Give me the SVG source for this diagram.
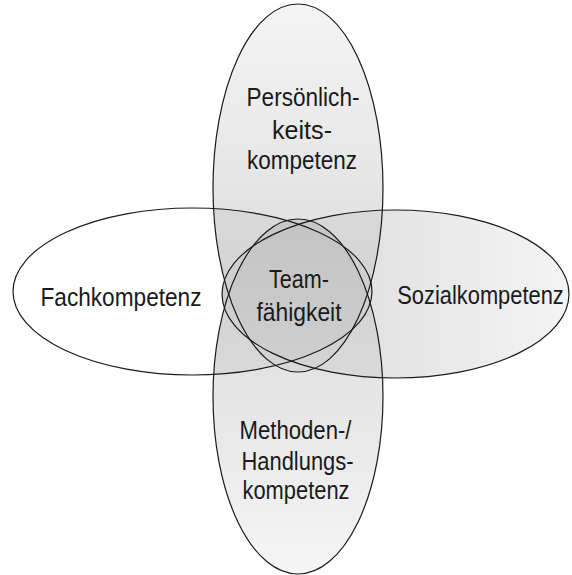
<svg xmlns="http://www.w3.org/2000/svg" xmlns:xlink="http://www.w3.org/1999/xlink" width="572" height="575" viewBox="0 0 572 575">
  <style>
    .outline { fill: none; stroke: #1a1a1a; stroke-width: 1.2; }
    .label { font-family: "Liberation Sans", Arial, sans-serif; font-size: 25px; fill: #1a1a1a; text-anchor: middle; }
    .shade { fill: #000; fill-opacity: 0.018; }
  </style>
  <defs>
    <ellipse id="eL" cx="192.5" cy="291.5" rx="179.5" ry="83.5"/>
    <ellipse id="eR" cx="395.5" cy="294" rx="173.5" ry="84"/>
    <ellipse id="eT" cx="298" cy="188" rx="85" ry="184"/>
    <ellipse id="eB" cx="298" cy="396.5" rx="85" ry="177.5"/>
    <linearGradient id="gT" gradientUnits="userSpaceOnUse" x1="0" y1="4" x2="0" y2="372">
      <stop offset="0" stop-color="#f4f4f4"/>
      <stop offset="1" stop-color="#d6d6d6"/>
    </linearGradient>
    <linearGradient id="gB" gradientUnits="userSpaceOnUse" x1="0" y1="219" x2="0" y2="574">
      <stop offset="0" stop-color="#d6d6d6"/>
      <stop offset="1" stop-color="#f5f5f5"/>
    </linearGradient>
    <linearGradient id="gR" gradientUnits="userSpaceOnUse" x1="222" y1="0" x2="569" y2="0">
      <stop offset="0" stop-color="#d6d6d6"/>
      <stop offset="1" stop-color="#f4f4f4"/>
    </linearGradient>
    <clipPath id="cNotL"><use xlink:href="#eR"/><use xlink:href="#eT"/><use xlink:href="#eB"/></clipPath>
    <clipPath id="cNotR"><use xlink:href="#eL"/><use xlink:href="#eT"/><use xlink:href="#eB"/></clipPath>
    <clipPath id="cNotT"><use xlink:href="#eL"/><use xlink:href="#eR"/><use xlink:href="#eB"/></clipPath>
    <clipPath id="cNotB"><use xlink:href="#eL"/><use xlink:href="#eR"/><use xlink:href="#eT"/></clipPath>
  </defs>

  <rect width="572" height="575" fill="#ffffff"/>

  <g id="shading">
    <use xlink:href="#eL" fill="#ffffff"/>
    <use xlink:href="#eR" fill="url(#gR)"/>
    <use xlink:href="#eT" fill="url(#gT)"/>
    <use xlink:href="#eB" fill="url(#gB)"/>
    <use xlink:href="#eL" class="shade" clip-path="url(#cNotL)"/>
    <use xlink:href="#eR" class="shade" clip-path="url(#cNotR)"/>
    <use xlink:href="#eT" class="shade" clip-path="url(#cNotT)"/>
    <use xlink:href="#eB" class="shade" clip-path="url(#cNotB)"/>
  </g>

  <g id="fachkompetenz">
    <use xlink:href="#eL" class="outline"/>
    <text class="label" x="121" y="306" textLength="161" lengthAdjust="spacingAndGlyphs">Fachkompetenz</text>
  </g>
  <g id="sozialkompetenz">
    <use xlink:href="#eR" class="outline"/>
    <text class="label" transform="translate(480.5 304) scale(0.875 1)" x="0" y="0">Sozialkompetenz</text>
  </g>
  <g id="persoenlichkeitskompetenz">
    <use xlink:href="#eT" class="outline"/>
    <text class="label" x="303" y="106" textLength="113" lengthAdjust="spacingAndGlyphs">Persönlich-</text>
    <text class="label" x="302" y="139" textLength="60" lengthAdjust="spacingAndGlyphs">keits-</text>
    <text class="label" x="302" y="169" textLength="110" lengthAdjust="spacingAndGlyphs">kompetenz</text>
  </g>
  <g id="methodenkompetenz">
    <use xlink:href="#eB" class="outline"/>
    <text class="label" x="295.5" y="439" textLength="112" lengthAdjust="spacingAndGlyphs">Methoden-/</text>
    <text class="label" x="297.5" y="470" textLength="112" lengthAdjust="spacingAndGlyphs">Handlungs-</text>
    <text class="label" x="296" y="499" textLength="107" lengthAdjust="spacingAndGlyphs">kompetenz</text>
  </g>
  <g id="teamfaehigkeit">
    <text class="label" x="299" y="288" textLength="60" lengthAdjust="spacingAndGlyphs">Team-</text>
    <text class="label" x="299" y="321" textLength="85" lengthAdjust="spacingAndGlyphs">fähigkeit</text>
  </g>
</svg>
